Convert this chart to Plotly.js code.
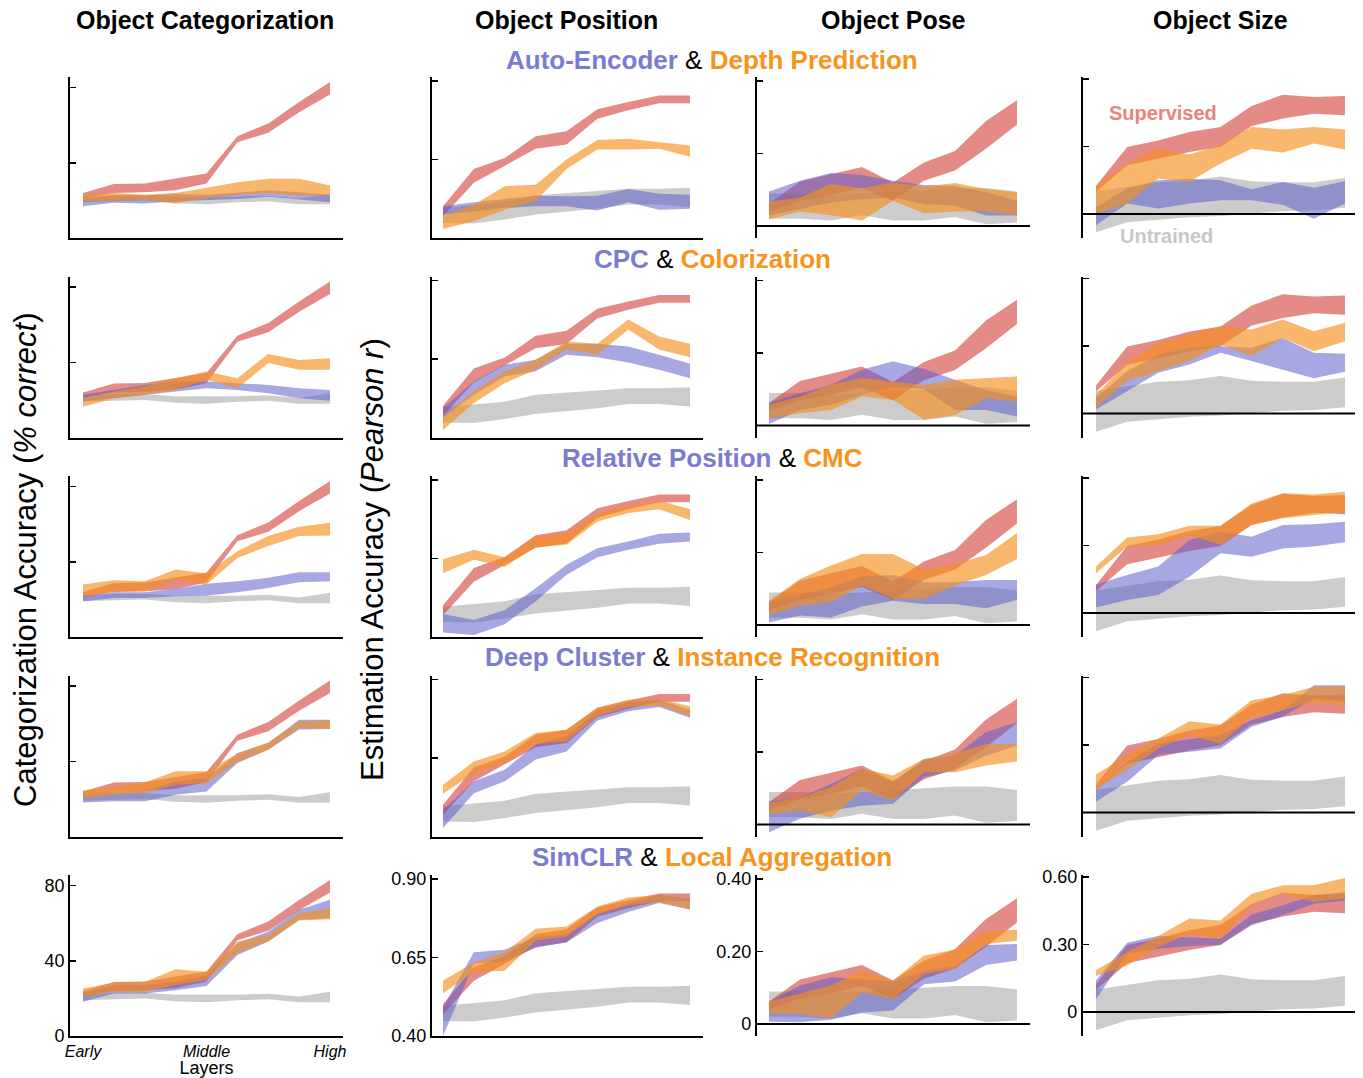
<!DOCTYPE html>
<html><head><meta charset="utf-8">
<script src="https://cdn.plot.ly/plotly-3.0.1.min.js"></script>
<style>html,body{margin:0;padding:0;background:#fff}#chart{width:1363px;height:1078px}</style>
</head><body><div id="chart"></div>
<script>
// ---------------- DATA ----------------
const layers = [0,1,2,3,4,5,6,7,8];
const layerTickVals = [0,4,8];
const layerTickText = ['Early','Middle','High'];
const taskNames = ['Object Categorization','Object Position','Object Pose','Object Size'];
const modelsA = ['Auto-Encoder','CPC','Relative Position','Deep Cluster','SimCLR'];
const modelsB = ['Depth Prediction','Colorization','CMC','Instance Recognition','Local Aggregation'];

// Supervised (shared per task)
const supCatHi  = [24,28.8,29,31.5,34.3,54.2,61,72.4,83];
const supCatLo  = [21.3,24,24.4,25.4,29,51,56,67,76.4];
const supPosHi  = [0.501,0.62,0.655,0.724,0.74,0.81,0.833,0.854,0.854];
const supPosLo  = [0.469,0.576,0.629,0.684,0.698,0.78,0.807,0.829,0.829];
const supPoseHi = [0.062,0.123,0.143,0.163,0.12,0.175,0.207,0.29,0.347];
const supPoseLo = [0.04,0.07,0.085,0.105,0.07,0.125,0.153,0.213,0.28];
const supSizeHi = [0.124,0.298,0.327,0.364,0.387,0.48,0.53,0.52,0.524];
const supSizeLo = [0.098,0.216,0.246,0.276,0.298,0.391,0.424,0.446,0.439];

// Untrained (shared per task)
const untCatHi  = [22,23,23,22,22,22,22.5,21,23.5];
const untCatLo  = [19,19.5,20,18.5,18,19,19.5,18,18];
const untPosHi  = [0.496,0.504,0.514,0.536,0.542,0.55,0.557,0.557,0.56];
const untPosLo  = [0.448,0.446,0.459,0.475,0.485,0.493,0.507,0.507,0.499];
const untPoseHi = [0.09,0.09,0.085,0.09,0.095,0.1,0.105,0.105,0.095];
const untPoseLo = [0.02,0.02,0.015,0.03,0.015,0.015,0.025,0.005,0.01];
const untSizeHi = [0.1,0.121,0.141,0.148,0.166,0.145,0.141,0.141,0.16];
const untSizeLo = [-0.081,-0.037,-0.027,-0.015,-0.009,0,0.012,0.015,0.027];

// Auto-Encoder
const aeCatHi  = [21.3,22.6,22.6,23.6,23,24,25.4,24.4,23];
const aeCatLo  = [16.9,18.7,18.3,19.6,20.4,20.8,21.9,20.4,19];
const aePosHi  = [0.501,0.514,0.524,0.535,0.533,0.535,0.556,0.541,0.538];
const aePosLo  = [0.474,0.485,0.496,0.501,0.501,0.488,0.514,0.49,0.493];
const aePoseHi = [0.095,0.125,0.146,0.141,0.125,0.113,0.111,0.093,0.07];
const aePoseLo = [0.029,0.047,0.065,0.074,0.079,0.061,0.056,0.029,0.029];
const aeSizeHi = [0.03,0.113,0.15,0.157,0.15,0.11,0.142,0.116,0.145];
const aeSizeLo = [-0.05,0.046,0.024,0.046,0.061,0.061,0.041,-0.021,0.046];
// Depth Prediction
const dpCatHi  = [23,24,23,24,26.7,29.7,31.5,31.5,28];
const dpCatLo  = [19.6,19.6,20.4,18.3,21.3,23,24,22.6,22.6];
const dpPosHi  = [0.469,0.506,0.565,0.57,0.65,0.712,0.716,0.705,0.695];
const dpPosLo  = [0.429,0.453,0.49,0.517,0.62,0.682,0.682,0.684,0.659];
const dpPoseHi = [0.067,0.079,0.116,0.104,0.12,0.109,0.119,0.102,0.093];
const dpPoseLo = [0.019,0.04,0.03,0.015,0.07,0.035,0.04,0.04,0.03];
const dpSizeHi = [0.124,0.224,0.293,0.264,0.308,0.387,0.376,0.387,0.376];
const dpSizeLo = [0,0.046,0.157,0.142,0.224,0.29,0.273,0.313,0.287];
// CPC
const cpcCatHi  = [22.7,25.3,28,29.8,29.8,28.9,28,26.2,25.3];
const cpcCatLo  = [19.1,20.9,22.7,24.4,26.2,25.3,23.6,20.9,19.6];
const cpcPosHi  = [0.494,0.579,0.632,0.648,0.699,0.699,0.69,0.664,0.635];
const cpcPosLo  = [0.462,0.536,0.595,0.611,0.664,0.656,0.639,0.616,0.589];
const cpcPoseHi = [0.062,0.089,0.112,0.154,0.177,0.156,0.126,0.098,0.08];
const cpcPoseLo = [0.004,0.043,0.057,0.085,0.105,0.101,0.043,0.043,0.025];
const cpcSizeHi = [0.07,0.188,0.262,0.292,0.299,0.292,0.336,0.27,0.265];
const cpcSizeLo = [0.018,0.099,0.181,0.218,0.27,0.233,0.196,0.156,0.185];
// Colorization
const colCatHi  = [20.9,24.4,27.1,31.6,35.1,31.6,44.5,41.3,42.2];
const colCatLo  = [16.4,20.9,22.7,25.3,30.7,26.2,39.6,36,36];
const colPosHi  = [0.467,0.547,0.611,0.648,0.706,0.699,0.776,0.722,0.699];
const colPosLo  = [0.424,0.51,0.573,0.616,0.68,0.664,0.744,0.68,0.656];
const colPoseHi = [0.057,0.08,0.112,0.132,0.121,0.112,0.126,0.131,0.135];
const colPoseLo = [0.02,0.034,0.043,0.08,0.071,0.016,0.029,0.075,0.066];
const colSizeHi = [0.084,0.225,0.314,0.351,0.388,0.373,0.418,0.366,0.403];
const colSizeLo = [0.025,0.144,0.188,0.233,0.307,0.255,0.336,0.277,0.321];
// Relative Position
const rpCatHi  = [21.7,23.8,23.8,25.6,28.4,29.7,31.5,34.5,34.5];
const rpCatLo  = [19,20.8,20.8,21.7,22,23.8,26.1,29.2,29.7];
const rpPosHi  = [0.473,0.454,0.486,0.555,0.63,0.683,0.704,0.729,0.733];
const rpPosLo  = [0.414,0.406,0.441,0.513,0.598,0.654,0.678,0.697,0.704];
const rpPoseHi = [0.063,0.083,0.104,0.134,0.138,0.118,0.118,0.124,0.124];
const rpPoseLo = [0.007,0.026,0.021,0.051,0.067,0.058,0.058,0.046,0.07];
const rpSizeHi = [0.127,0.169,0.206,0.324,0.361,0.339,0.391,0.394,0.406];
const rpSizeLo = [0.024,0.058,0.08,0.161,0.265,0.25,0.287,0.295,0.314];
// CMC
const cmcCatHi  = [27.9,30.2,29.7,35.9,33.8,45.7,53.7,58.7,60.8];
const cmcCatLo  = [21.7,24.4,24.4,30.6,27.9,42.1,48.4,53.7,54];
const cmcPosHi  = [0.648,0.678,0.654,0.72,0.731,0.793,0.818,0.835,0.807];
const cmcPosLo  = [0.603,0.646,0.624,0.686,0.694,0.768,0.795,0.807,0.773];
const cmcPoseHi = [0.067,0.127,0.164,0.196,0.196,0.154,0.168,0.193,0.254];
const cmcPoseLo = [0.028,0.053,0.063,0.109,0.072,0.072,0.109,0.138,0.182];
const cmcSizeHi = [0.206,0.335,0.35,0.388,0.388,0.487,0.532,0.527,0.539];
const cmcSizeLo = [0.176,0.295,0.302,0.347,0.302,0.391,0.421,0.436,0.45];
// Deep Cluster
const dcCatHi  = [21.7,24,24.5,29.3,31.1,44.4,49.8,62.2,62.2];
const dcCatLo  = [18.1,18.7,18.7,22.2,24,39.1,46.2,56.9,57.2];
const dcPosHi  = [0.485,0.576,0.613,0.693,0.719,0.802,0.828,0.836,0.804];
const dcPosLo  = [0.427,0.538,0.576,0.645,0.671,0.77,0.799,0.813,0.778];
const dcPoseHi = [0.062,0.075,0.112,0.154,0.117,0.181,0.19,0.255,0.282];
const dcPoseLo = [-0.021,0.016,0.039,0.052,0.057,0.131,0.149,0.19,0.218];
const dcSizeHi = [0.099,0.225,0.307,0.326,0.344,0.41,0.455,0.566,0.566];
const dcSizeLo = [0.047,0.136,0.255,0.27,0.284,0.381,0.425,0.507,0.492];
// Instance Recognition
const irCatHi  = [24.5,26.7,28.8,34.7,34.7,44.1,50.1,61.3,61.9];
const irCatLo  = [20.4,22.2,23.1,27.6,28.4,39.5,46.2,57.8,57.2];
const irPosHi  = [0.565,0.639,0.671,0.73,0.74,0.81,0.836,0.838,0.815];
const irPosLo  = [0.536,0.602,0.634,0.696,0.703,0.783,0.813,0.817,0.783];
const irPoseHi = [0.06,0.075,0.103,0.154,0.135,0.181,0.195,0.222,0.222];
const irPoseLo = [0.029,0.039,0.02,0.094,0.066,0.144,0.144,0.163,0.174];
const irSizeHi = [0.169,0.255,0.329,0.406,0.391,0.499,0.521,0.559,0.563];
const irSizeLo = [0.107,0.188,0.284,0.344,0.307,0.425,0.455,0.492,0.474];
// SimCLR
const scCatHi  = [22.6,27.1,27.1,28.9,32.4,49.4,55.6,67.2,72.5];
const scCatLo  = [18.2,22.6,22.6,24.4,26.6,43.1,50.3,61.9,62.7];
const scPosHi  = [0.491,0.667,0.675,0.715,0.724,0.79,0.822,0.849,0.835];
const scPosLo  = [0.40,0.63,0.64,0.681,0.699,0.76,0.795,0.824,0.803];
const scPoseHi = [0.06,0.106,0.129,0.124,0.117,0.147,0.161,0.218,0.221];
const scPoseLo = [0.006,0.005,0.012,0.032,0.037,0.11,0.117,0.163,0.175];
const scSizeHi = [0.141,0.308,0.338,0.333,0.326,0.433,0.474,0.519,0.533];
const scSizeLo = [0.056,0.259,0.281,0.293,0.299,0.385,0.43,0.481,0.496];
// Local Aggregation
const laCatHi  = [25.3,28.3,28.9,35.5,34.2,50.3,53.8,65.4,68.1];
const laCatLo  = [20.9,23.5,23.5,27.1,29.8,44,50.3,61.5,62.2];
const laPosHi  = [0.576,0.635,0.667,0.742,0.749,0.813,0.841,0.849,0.833];
const laPosLo  = [0.536,0.603,0.608,0.704,0.717,0.788,0.817,0.827,0.803];
const laPoseHi = [0.062,0.083,0.106,0.147,0.12,0.189,0.205,0.257,0.26];
const laPoseLo = [0.03,0.028,0.016,0.087,0.069,0.138,0.152,0.221,0.23];
const laSizeHi = [0.185,0.267,0.338,0.415,0.407,0.526,0.563,0.563,0.596];
const laSizeLo = [0.16,0.207,0.289,0.348,0.326,0.474,0.526,0.489,0.504];

// Axis tick labels
const yTickVals = [[0,40,80],[0.40,0.65,0.90],[0,0.20,0.40],[0,0.30,0.60]];
const yTickText = [['0','40','80'],['0.40','0.65','0.90'],['0','0.20','0.40'],['0','0.30','0.60']];

// ---------------- ASSEMBLY ----------------
const sup = [[supCatHi,supCatLo],[supPosHi,supPosLo],[supPoseHi,supPoseLo],[supSizeHi,supSizeLo]];
const unt = [[untCatHi,untCatLo],[untPosHi,untPosLo],[untPoseHi,untPoseLo],[untSizeHi,untSizeLo]];
const bandsA = [
  [[aeCatHi,aeCatLo],[aePosHi,aePosLo],[aePoseHi,aePoseLo],[aeSizeHi,aeSizeLo]],
  [[cpcCatHi,cpcCatLo],[cpcPosHi,cpcPosLo],[cpcPoseHi,cpcPoseLo],[cpcSizeHi,cpcSizeLo]],
  [[rpCatHi,rpCatLo],[rpPosHi,rpPosLo],[rpPoseHi,rpPoseLo],[rpSizeHi,rpSizeLo]],
  [[dcCatHi,dcCatLo],[dcPosHi,dcPosLo],[dcPoseHi,dcPoseLo],[dcSizeHi,dcSizeLo]],
  [[scCatHi,scCatLo],[scPosHi,scPosLo],[scPoseHi,scPoseLo],[scSizeHi,scSizeLo]]
];
const bandsB = [
  [[dpCatHi,dpCatLo],[dpPosHi,dpPosLo],[dpPoseHi,dpPoseLo],[dpSizeHi,dpSizeLo]],
  [[colCatHi,colCatLo],[colPosHi,colPosLo],[colPoseHi,colPoseLo],[colSizeHi,colSizeLo]],
  [[cmcCatHi,cmcCatLo],[cmcPosHi,cmcPosLo],[cmcPoseHi,cmcPoseLo],[cmcSizeHi,cmcSizeLo]],
  [[irCatHi,irCatLo],[irPosHi,irPosLo],[irPoseHi,irPoseLo],[irSizeHi,irSizeLo]],
  [[laCatHi,laCatLo],[laPosHi,laPosLo],[laPoseHi,laPoseLo],[laSizeHi,laSizeLo]]
];

const W = 1363, H = 1078;
const FONT = 'Liberation Sans, Arial, Helvetica, sans-serif';
const C_RED = 'rgba(210,62,56,0.6)';
const C_GRAY = 'rgba(185,185,185,0.72)';
const C_BLUE = 'rgba(95,95,200,0.55)';
const C_ORANGE = 'rgba(245,145,30,0.65)';
const T_BLUE = '#7b7bcf', T_ORANGE = '#f7941d';

// geometry (pixels)
const colPts = [[83,330],[443,690],[769,1017],[1096,1345]];
const colXR = [[-0.42,8.42],[-0.36,8.42],[-0.39,8.42],[-0.42,8.32]];
const colYR = [[0,85.7],[0.40,0.913],[-0.033,0.411],[-0.107,0.609]];
const rowTop0 = 77, rowBot0 = 238, rowPitch = 199.5;

const data = [];
const layout = {
  width: W, height: H, margin: {l:0,r:0,t:0,b:0,pad:0},
  paper_bgcolor: '#fff', plot_bgcolor: 'rgba(0,0,0,0)',
  showlegend: false, font: {family: FONT, color: '#000'},
  annotations: [], shapes: []
};

function band(pair, color, k) {
  const hi = pair[0], lo = pair[1];
  const xs = layers.concat(layers.slice().reverse());
  const ys = hi.concat(lo.slice().reverse());
  const s = k === 1 ? '' : String(k);
  return {x: xs, y: ys, type: 'scatter', mode: 'lines', fill: 'toself',
    fillcolor: color, line: {width: 0, color: 'rgba(0,0,0,0)'},
    hoverinfo: 'skip', xaxis: 'x' + s, yaxis: 'y' + s};
}

for (let r = 0; r < 5; r++) {
  for (let c = 0; c < 4; c++) {
    const k = r * 4 + c + 1;
    const s = k === 1 ? '' : String(k);
    data.push(band(unt[c], C_GRAY, k));
    data.push(band(sup[c], C_RED, k));
    data.push(band(bandsA[r][c], C_BLUE, k));
    data.push(band(bandsB[r][c], C_ORANGE, k));

    const step = (colPts[c][1] - colPts[c][0]) / 8;
    const leftPx = colPts[c][0] + colXR[c][0] * step;
    const rightPx = colPts[c][1] + (colXR[c][1] - 8) * step;
    const topPx = rowTop0 + r * rowPitch, botPx = rowBot0 + r * rowPitch;
    const isBottom = r === 4;
    const useZeroLine = c >= 2;

    layout['xaxis' + s] = {
      domain: [leftPx / W, rightPx / W], range: colXR[c], anchor: 'y' + s,
      showgrid: false, zeroline: false, fixedrange: true,
      showline: !useZeroLine, linecolor: '#000', linewidth: 2,
      ticks: '', showticklabels: (isBottom && c === 0),
      tickvals: layerTickVals,
      ticktext: layerTickText.map(t => '<i>' + t + '</i>'),
      tickfont: {family: FONT, size: 16, color: '#000'},
      title: (isBottom && c === 0) ? {text: 'Layers', font: {family: FONT, size: 18, color: '#000'}, standoff: 0} : {text: ''}
    };
    layout['yaxis' + s] = {
      domain: [1 - botPx / H, 1 - topPx / H], range: colYR[c], anchor: 'x' + s,
      showgrid: false, zeroline: false, fixedrange: true,
      showline: true, linecolor: '#000', linewidth: 2,
      ticks: 'inside', ticklen: 6, tickwidth: 1.5, tickcolor: '#000',
      tickvals: yTickVals[c], ticktext: yTickText[c],
      showticklabels: isBottom,
      tickfont: {family: FONT, size: 18, color: '#000'}
    };
    if (useZeroLine) {
      layout.shapes.push({type: 'line', xref: 'x' + s + ' domain', yref: 'y' + s,
        x0: 0, x1: 1, y0: 0, y1: 0, line: {color: '#000', width: 2}, layer: 'above'});
    }
  }
}

function ann(text, px, py, opts) {
  return Object.assign({text: text, x: px / W, y: 1 - py / H, xref: 'paper', yref: 'paper',
    xanchor: 'center', yanchor: 'middle', showarrow: false,
    font: {family: FONT, size: 20, color: '#000'}}, opts || {});
}
// column titles
const colTitleX = [205, 566, 893, 1220];
taskNames.forEach((t, i) => layout.annotations.push(ann('<b>' + t + '</b>', colTitleX[i], 20, {font: {family: FONT, size: 25, color: '#000'}})));
// row titles
const rowTitleY = [60, 259, 458, 657, 857];
for (let r = 0; r < 5; r++) {
  const txt = '<b><span style="color:' + T_BLUE + '">' + modelsA[r] + '</span></b> &amp; <b><span style="color:' + T_ORANGE + '">' + modelsB[r] + '</span></b>';
  layout.annotations.push(ann(txt, 712, rowTitleY[r], {font: {family: FONT, size: 26, color: '#000'}}));
}
// y titles
layout.annotations.push(ann('Categorization Accuracy (<i>% correct</i>)', 25, 560, {textangle: -90, font: {family: FONT, size: 31, color: '#000'}}));
layout.annotations.push(ann('Estimation Accuracy (<i>Pearson r</i>)', 372, 560, {textangle: -90, font: {family: FONT, size: 31, color: '#000'}}));
// legend labels
layout.annotations.push(ann('<b>Supervised</b>', 1163, 113, {font: {family: FONT, size: 20, color: '#e8837d'}}));
layout.annotations.push(ann('<b>Untrained</b>', 1166, 236, {font: {family: FONT, size: 20, color: '#c8c8c8'}}));

Plotly.newPlot('chart', data, layout, {displayModeBar: false, staticPlot: true});
</script>
</body></html>
